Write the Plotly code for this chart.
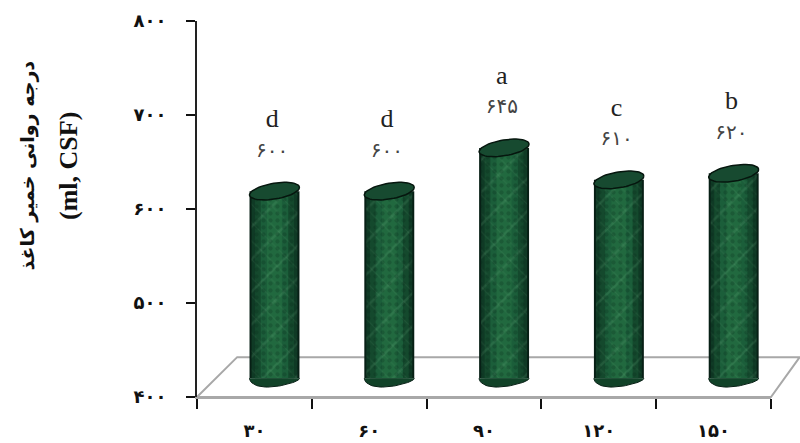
import numpy as np
import plotly.graph_objects as go

categories = ["۳۰", "۶۰", "۹۰", "۱۲۰", "۱۵۰"]
bar_tops = [619, 619, 665, 631, 638]
bar_base = 420
value_labels = ["۶۰۰", "۶۰۰", "۶۴۵", "۶۱۰", "۶۲۰"]
letters = ["d", "d", "a", "c", "b"]
y_ticks = [400, 500, 600, 700, 800]
y_tick_labels = ["۴۰۰", "۵۰۰", "۶۰۰", "۷۰۰", "۸۰۰"]

shift = 0.175
bar_w = 0.435
# nested bars fake the round shading of the cylinder
layers = [(1.0, "#071f15"), (0.92, "#0f3a25"), (0.78, "#14492d"), (0.55, "#1b5e3a"), (0.3, "#21693f")]
# overlaid patterns, low alpha, to break up the flat green like the marble fill
speckles = [("/", 23, 0.10, "rgba(150,220,170,0.22)"),
            ("\\", 13, 0.08, "rgba(150,220,170,0.16)"),
            (".", 7, 0.30, "rgba(5,35,20,0.45)")]

fig = go.Figure()

for frac, col in layers:
    w = bar_w * frac
    fig.add_trace(go.Bar(x=categories, y=[t - bar_base for t in bar_tops], base=bar_base,
                         width=w, offset=shift - w / 2, marker_color=col,
                         marker_line_width=0, showlegend=False, hoverinfo="skip"))

for shp, size, sol, col in speckles:
    fig.add_trace(go.Bar(x=categories, y=[t - bar_base for t in bar_tops], base=bar_base,
                         width=bar_w * 0.92, offset=shift - bar_w * 0.46,
                         marker=dict(color="rgba(0,0,0,0)", line_width=0,
                                     pattern=dict(shape=shp, size=size, solidity=sol,
                                                  fgcolor=col, bgcolor="rgba(0,0,0,0)")),
                         showlegend=False, hoverinfo="skip"))

t = np.linspace(0, 2 * np.pi, 60)
half = np.linspace(0, np.pi, 30)
for i, top in enumerate(bar_tops):
    cx = i + shift
    rx = bar_w / 2
    # top cap, tilted a little
    fig.add_trace(go.Scatter(x=cx + rx * np.cos(t), y=top + 8.5 * np.sin(t) + 4 * np.cos(t),
                             xaxis="x2", mode="lines", fill="toself", fillcolor="#174a30",
                             line=dict(color="#06160e", width=1.5),
                             showlegend=False, hoverinfo="skip"))
    # round bottom of the cylinder, ends stay on the bar corners
    fig.add_trace(go.Scatter(x=cx + rx * np.cos(half),
                             y=bar_base - 9 * np.sin(half) + 3 * np.sin(half) * np.cos(half),
                             xaxis="x2", mode="lines", fill="toself", fillcolor="#114228",
                             line=dict(color="#071f15", width=1),
                             showlegend=False, hoverinfo="skip"))

label_x = [i + shift - 0.02 for i in range(len(categories))]
fig.add_trace(go.Scatter(x=label_x, y=[v + 42 for v in bar_tops], xaxis="x2", mode="text",
                         text=value_labels, textposition="middle center",
                         textfont=dict(family="DejaVu Sans", size=20, color="#444444"),
                         showlegend=False, hoverinfo="skip"))
fig.add_trace(go.Scatter(x=label_x, y=[v + 75 for v in bar_tops], xaxis="x2", mode="text",
                         text=letters, textposition="middle center",
                         textfont=dict(family="Liberation Serif", size=26, color="#222222"),
                         showlegend=False, hoverinfo="skip"))

# floor of the 3d box
fig.add_shape(type="path", xref="paper", yref="paper", layer="below",
              path="M 0 0 L 0.07 0.106 L 1.05 0.106 L 1 0 Z",
              line=dict(color="#a8a8a8", width=2), fillcolor="white")

fig.add_annotation(text="<b>درجه روانی خمیر کاغذ</b>", xref="paper", yref="paper", x=-0.295, y=0.615,
                   xanchor="center", yanchor="middle", textangle=-90, showarrow=False,
                   font=dict(family="DejaVu Sans", size=19, color="#111111"))
fig.add_annotation(text="<b>(ml, CSF)</b>", xref="paper", yref="paper", x=-0.225, y=0.614,
                   xanchor="center", yanchor="middle", textangle=-90, showarrow=False,
                   font=dict(family="Liberation Serif", size=26, color="#111111"))

fig.update_layout(
    width=800, height=443,
    margin=dict(l=196.5, r=29, t=21, b=46, autoexpand=False),
    paper_bgcolor="white", plot_bgcolor="rgba(0,0,0,0)",
    barmode="overlay", showlegend=False,
    xaxis=dict(type="category", categoryorder="array", categoryarray=categories,
               tickson="boundaries", ticks="outside", ticklen=10, tickwidth=1.5,
               tickcolor="#111111", showline=True, linecolor="#a8a8a8", linewidth=2,
               showgrid=False, ticklabelstandoff=16, range=[-0.5, 4.5], automargin=False,
               tickfont=dict(family="DejaVu Sans", size=18, color="#111111", weight=700)),
    xaxis2=dict(overlaying="x", range=[-0.5, 4.5], visible=False, showgrid=False),
    yaxis=dict(range=[400, 800], tickvals=y_ticks, ticktext=y_tick_labels,
               ticks="outside", ticklen=9, tickwidth=1.5, tickcolor="#111111",
               showline=True, linecolor="#222222", linewidth=2, showgrid=False,
               zeroline=False, ticklabelstandoff=16, automargin=False,
               tickfont=dict(family="DejaVu Sans", size=18, color="#111111", weight=700)),
)

# drop the default body margin so the figure fills the window
fig.write_html("out.html", config={"displayModeBar": False},
               post_script="document.body.style.margin = '0';")
